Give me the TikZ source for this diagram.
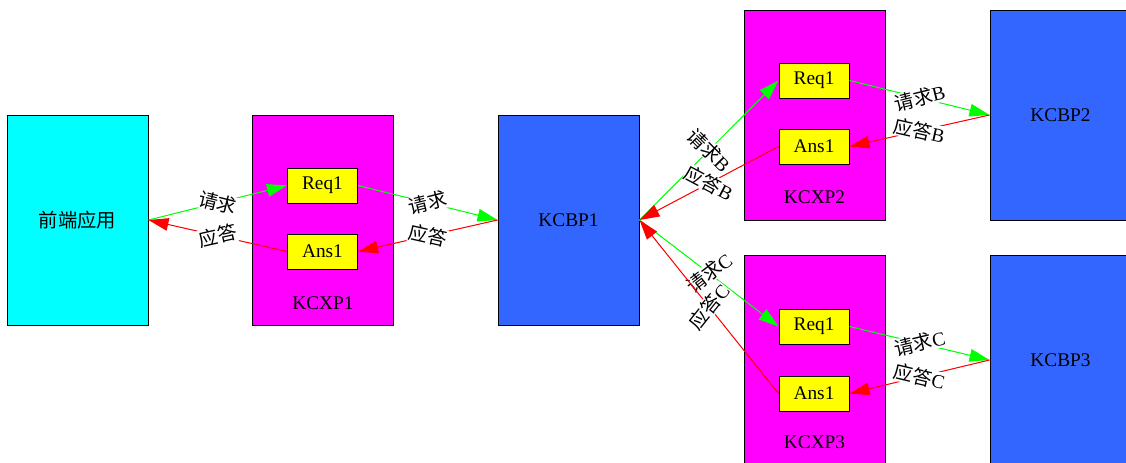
\documentclass[tikz,border=0pt]{standalone}
\usepackage{fontspec}
\setmainfont{Liberation Serif}
\newfontfamily\cjk{Noto Sans CJK SC}
\usetikzlibrary{arrows.meta}

\definecolor{frontcyan}{RGB}{0,255,255}
\definecolor{kcxpmag}{RGB}{255,0,255}
\definecolor{kcbpblue}{RGB}{51,102,255}
\definecolor{msgyellow}{RGB}{255,255,0}
\definecolor{reqgreen}{RGB}{0,255,0}
\definecolor{ansred}{RGB}{255,0,0}

\tikzset{every picture/.style={line width=0.75pt}}
\tikzset{
  bigbox/.style={draw=black, minimum width=105.75pt, minimum height=157.5pt, inner sep=0pt},
  msgbox/.style={draw=black, fill=msgyellow, minimum width=52.5pt, minimum height=26.25pt, inner sep=0pt},
  reqline/.style={draw=reqgreen, -{Triangle[length=15pt,width=9.5pt]}, fill=reqgreen},
  ansline/.style={draw=ansred, -{Triangle[length=15pt,width=9.5pt]}, fill=ansred},
  msglabel/.style={midway, sloped, fill=white, inner sep=0.3pt}
}

\begin{document}
\begin{tikzpicture}[x=0.75pt,y=0.75pt,yscale=-1,xscale=1,font=\fontsize{14.5}{17}\selectfont]
\useasboundingbox (0,0) rectangle (1126,462);

% Boxes
\node [bigbox, fill=frontcyan] (front) at (77.5,220) {\cjk 前端应用};
\node [bigbox, fill=kcxpmag] (kcxp1) at (323,220) {};
\node [bigbox, fill=kcbpblue] (kcbp1) at (568.5,220) {KCBP1};
\node [bigbox, fill=kcxpmag] (kcxp2) at (814.5,115) {};
\node [bigbox, fill=kcbpblue] (kcbp2) at (1060.5,115) {KCBP2};
\node [bigbox, fill=kcxpmag] (kcxp3) at (814.5,360) {};
\node [bigbox, fill=kcbpblue] (kcbp3) at (1060.5,360) {KCBP3};

% Text Node
\node (kcxp1lab) at (323,303) {KCXP1};
\node (kcxp2lab) at (814.5,197) {KCXP2};
\node (kcxp3lab) at (814.5,442) {KCXP3};

% Req / Ans
\node [msgbox] (req1) at (322.5,185.5) {Req1};
\node [msgbox] (ans1) at (322.5,251.5) {Ans1};
\node [msgbox] (req2) at (814,80.5) {Req1};
\node [msgbox] (ans2) at (814,146.5) {Ans1};
\node [msgbox] (req3) at (814,326.5) {Req1};
\node [msgbox] (ans3) at (814,393.5) {Ans1};

% Straight Lines
\draw [reqline] (front.east) -- node [msglabel] {\cjk 请求} (req1.west);
\draw [ansline] (ans1.west) -- node [msglabel] {\cjk 应答} (front.east);
\draw [reqline] (req1.east) -- node [msglabel] {\cjk 请求} (kcbp1.west);
\draw [ansline] (kcbp1.west) -- node [msglabel] {\cjk 应答} (ans1.east);

\draw [reqline] (kcbp1.east) -- node [msglabel] {{\cjk 请求}B} (req2.west);
\draw [ansline] (ans2.west) -- node [msglabel] {{\cjk 应答}B} (kcbp1.east);
\draw [reqline] (req2.east) -- node [msglabel] {{\cjk 请求}B} (kcbp2.west);
\draw [ansline] (kcbp2.west) -- node [msglabel] {{\cjk 应答}B} (ans2.east);

\draw [reqline] (kcbp1.east) -- node [msglabel] {{\cjk 请求}C} (req3.west);
\draw [ansline] (ans3.west) -- node [msglabel] {{\cjk 应答}C} (kcbp1.east);
\draw [reqline] (req3.east) -- node [msglabel] {{\cjk 请求}C} (kcbp3.west);
\draw [ansline] (kcbp3.west) -- node [msglabel] {{\cjk 应答}C} (ans3.east);

\end{tikzpicture}
\end{document}
